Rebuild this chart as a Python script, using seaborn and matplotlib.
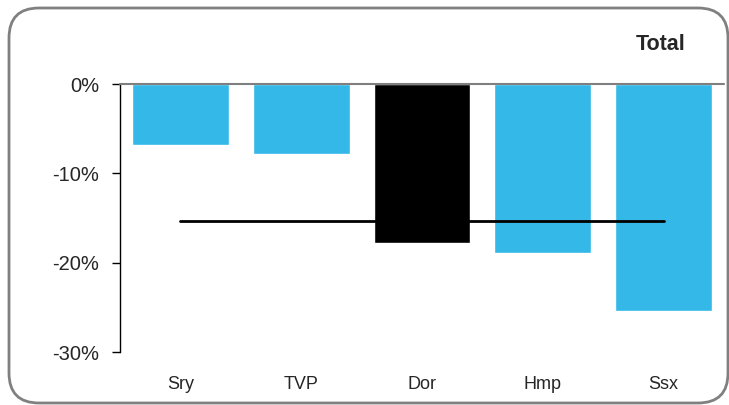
import numpy as np
import pandas as pd
import matplotlib
matplotlib.use("Agg")
import matplotlib.pyplot as plt
import seaborn as sns
from matplotlib.patches import FancyBboxPatch
from matplotlib.transforms import IdentityTransform

regions = ["Sry", "TVP", "Dor", "Hmp", "Ssx"]
change = [-6.8, -7.8, -17.8, -18.9, -25.4]
average = -15.3
highlight = "Dor"
title = "Total"

df = pd.DataFrame({"region": regions, "change": change})

sns.set_style("white")
plt.rcParams["font.family"] = ["Liberation Sans", "DejaVu Sans"]

fig = plt.figure(figsize=(7.29, 4.05), dpi=100)
ax = fig.add_axes([120 / 729, 1 - 352 / 405, 604 / 729, 268 / 405])

colors = ["#000000" if r == highlight else "#33B8E8" for r in regions]
sns.barplot(data=df, x="region", y="change", hue="region", palette=colors,
            width=0.8, legend=False, ax=ax, saturation=1)

# average line across bar centres
ax.plot([0, len(regions) - 1], [average, average], color="black", lw=2, zorder=5)

ax.axhline(0, color="#7f7f7f", lw=1.5, zorder=6, clip_on=False)
ax.set_ylim(-30, 0)
ax.set_xlim(-0.5, 4.5)
ax.set_yticks([0, -10, -20, -30])
ax.set_yticklabels(["0%", "-10%", "-20%", "-30%"], fontsize=14.5)
ax.tick_params(axis="y", left=True, length=6, width=1, color="black", pad=9)
ax.tick_params(axis="x", bottom=False, labelsize=13, pad=14)
ax.set_xlabel("")
ax.set_ylabel("")
for s in ["top", "right", "bottom"]:
    ax.spines[s].set_visible(False)
ax.spines["left"].set_color("black")
ax.spines["left"].set_linewidth(1)

fig.text(661 / 729, 1 - 45 / 405, title, ha="center", va="center",
         fontsize=15.5, fontweight="bold")

# rounded outer frame, in pixels
frame = FancyBboxPatch((9, 2), 719, 395,
                       boxstyle="round,pad=0,rounding_size=30",
                       transform=IdentityTransform(), fill=False,
                       edgecolor="#808080", lw=2)
fig.patches.append(frame)

fig.savefig("out.png", dpi=100)
